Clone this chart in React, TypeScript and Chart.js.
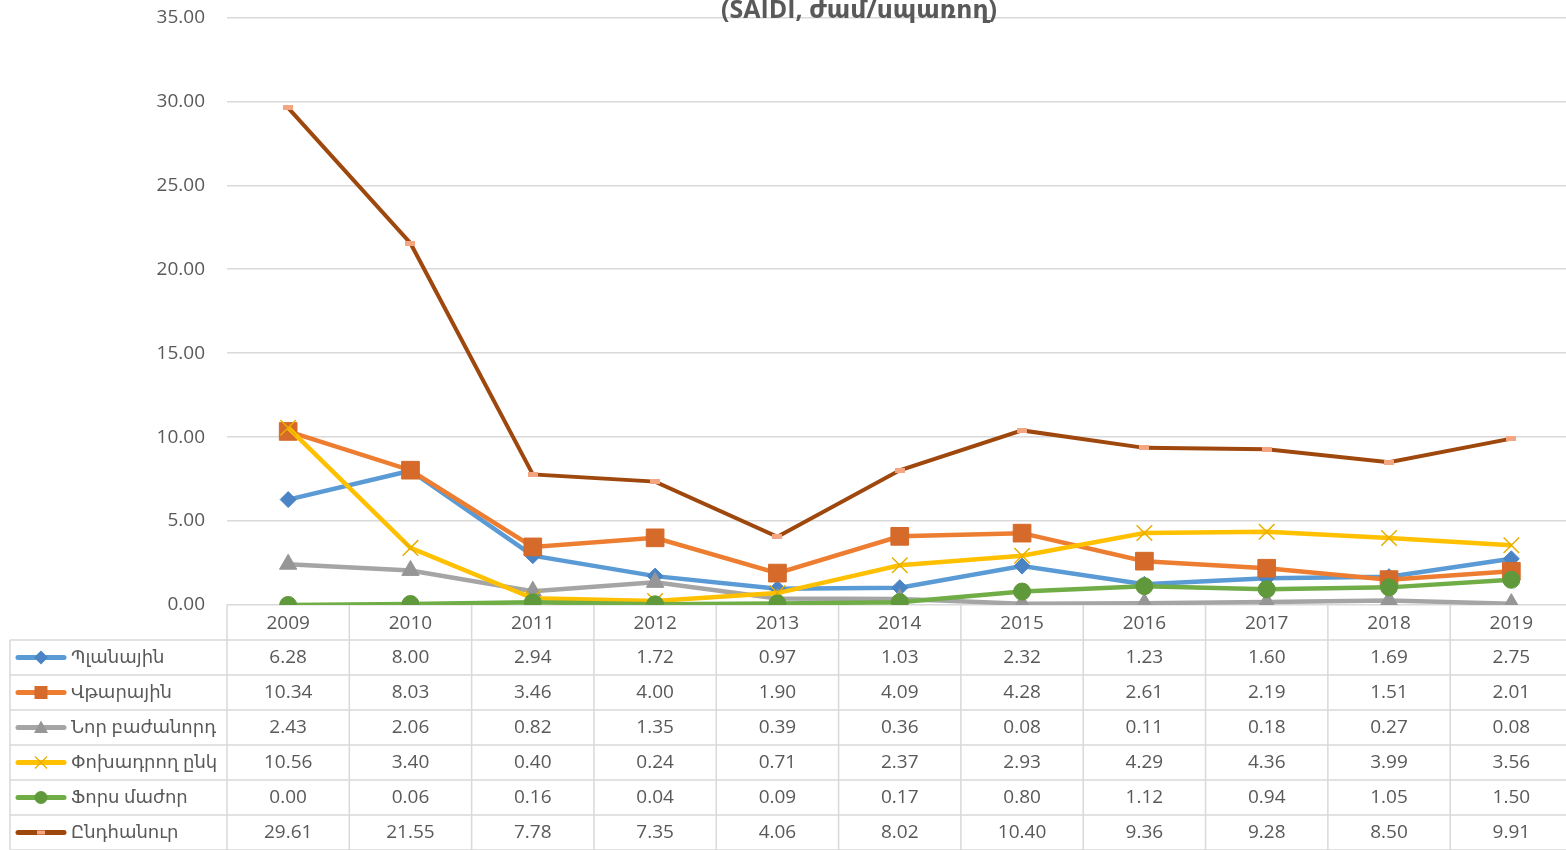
import React, { useEffect, useRef } from "react";
import { Chart, registerables } from "chart.js";

Chart.register(...registerables);

const years = ["2009", "2010", "2011", "2012", "2013", "2014", "2015", "2016", "2017", "2018", "2019"];
const planned = [6.28, 8.0, 2.94, 1.72, 0.97, 1.03, 2.32, 1.23, 1.6, 1.69, 2.75];
const emergency = [10.34, 8.03, 3.46, 4.0, 1.9, 4.09, 4.28, 2.61, 2.19, 1.51, 2.01];
const newSubscriber = [2.43, 2.06, 0.82, 1.35, 0.39, 0.36, 0.08, 0.11, 0.18, 0.27, 0.08];
const transmission = [10.56, 3.4, 0.4, 0.24, 0.71, 2.37, 2.93, 4.29, 4.36, 3.99, 3.56];
const forceMajeure = [0.0, 0.06, 0.16, 0.04, 0.09, 0.17, 0.8, 1.12, 0.94, 1.05, 1.5];
const total = [29.61, 21.55, 7.78, 7.35, 4.06, 8.02, 10.4, 9.36, 9.28, 8.5, 9.91];
const seriesNames = ["Պլանային", "Վթարային", "Նոր բաժանորդ", "Փոխադրող ընկ", "Ֆորս մաժոր", "Ընդհանուր"];
const titleText = "(SAIDI, ժամ/սպառող)";

const FONT = "'Open Sans', 'DejaVu Sans', sans-serif";
const TEXT = "#595959";
const GRID = "#d9d9d9";
const SHIFT = 16; // canvas is moved up by this many pixels

type Style = { line: string; marker: string; shape: string };
const styles: Style[] = [
  { line: "#5b9bd5", marker: "#4a84c4", shape: "diamond" },
  { line: "#ed7d31", marker: "#d56a2b", shape: "square" },
  { line: "#a5a5a5", marker: "#969696", shape: "triangle" },
  { line: "#ffc000", marker: "#e8ae00", shape: "cross" },
  { line: "#70ad47", marker: "#5f993b", shape: "circle" },
  { line: "#9e480e", marker: "#f4a582", shape: "dash" },
];

function drawShape(ctx: CanvasRenderingContext2D, shape: string, x: number, y: number, s: number, color: string) {
  ctx.save();
  ctx.fillStyle = color;
  ctx.strokeStyle = color;
  ctx.beginPath();
  if (shape === "diamond") {
    ctx.moveTo(x, y - s);
    ctx.lineTo(x + s, y);
    ctx.lineTo(x, y + s);
    ctx.lineTo(x - s, y);
    ctx.closePath();
    ctx.fill();
  } else if (shape === "square") {
    ctx.rect(x - s, y - s, 2 * s, 2 * s);
    ctx.fill();
  } else if (shape === "triangle") {
    ctx.moveTo(x, y - s);
    ctx.lineTo(x + s, y + s * 0.8);
    ctx.lineTo(x - s, y + s * 0.8);
    ctx.closePath();
    ctx.fill();
  } else if (shape === "cross") {
    ctx.lineWidth = 1.3;
    ctx.moveTo(x - s, y - s);
    ctx.lineTo(x + s, y + s);
    ctx.moveTo(x + s, y - s);
    ctx.lineTo(x - s, y + s);
    ctx.stroke();
  } else if (shape === "circle") {
    ctx.arc(x, y, s, 0, Math.PI * 2);
    ctx.fill();
  } else if (shape === "dash") {
    ctx.rect(x - 4, y - 2, 8, 4);
    ctx.fill();
  }
  ctx.restore();
}

const tablePlugin = {
  id: "dataTable",
  afterDraw(chart: any) {
    const ctx: CanvasRenderingContext2D = chart.ctx;
    const xs = chart.scales.x;
    const ys = chart.scales.y;
    const left = xs.left;
    const right = xs.right;
    const colW = (right - left) / years.length;
    const base = ys.getPixelForValue(0);
    const rowH = 35;
    const headerBottom = base + rowH;
    const bottom = headerBottom + rowH * 6;
    const tableLeft = 10;

    ctx.save();
    ctx.strokeStyle = GRID;
    ctx.lineWidth = 1.5;
    ctx.beginPath();
    for (let i = 0; i <= years.length; i++) {
      const x = left + i * colW;
      ctx.moveTo(x, base);
      ctx.lineTo(x, bottom);
    }
    ctx.moveTo(tableLeft, headerBottom);
    ctx.lineTo(tableLeft, bottom);
    for (let r = 0; r <= 6; r++) {
      const y = headerBottom + r * rowH;
      ctx.moveTo(tableLeft, y);
      ctx.lineTo(right, y);
    }
    ctx.stroke();

    ctx.fillStyle = TEXT;
    ctx.font = `19px ${FONT}`;
    ctx.textAlign = "center";
    ctx.textBaseline = "middle";
    years.forEach((yr, i) => {
      ctx.fillText(yr, xs.getPixelForValue(i), (base + headerBottom) / 2 + 1);
    });

    const data = [planned, emergency, newSubscriber, transmission, forceMajeure, total];
    data.forEach((arr, r) => {
      const cy = headerBottom + r * rowH + rowH / 2;
      ctx.fillStyle = TEXT;
      ctx.textAlign = "center";
      arr.forEach((v, i) => {
        ctx.fillText(v.toFixed(2), xs.getPixelForValue(i), cy);
      });
      const st = styles[r];
      ctx.save();
      ctx.strokeStyle = st.line;
      ctx.lineWidth = 5;
      ctx.lineCap = "round";
      ctx.beginPath();
      ctx.moveTo(18, cy);
      ctx.lineTo(64, cy);
      ctx.stroke();
      ctx.restore();
      const s = st.shape === "cross" ? 6 : st.shape === "circle" ? 6.5 : st.shape === "square" ? 6.5 : 7;
      drawShape(ctx, st.shape, 41, cy, s, st.marker);
      ctx.fillStyle = TEXT;
      ctx.textAlign = "left";
      ctx.font = `18px ${FONT}`;
      ctx.fillText(seriesNames[r], 71, cy);
      ctx.font = `19px ${FONT}`;
    });

    ctx.fillStyle = TEXT;
    ctx.font = `bold 25px ${FONT}`;
    ctx.textAlign = "center";
    ctx.textBaseline = "alphabetic";
    ctx.fillText(titleText, 859, 18 + SHIFT);
    ctx.restore();
  },
};

export default function App() {
  const ref = useRef<HTMLCanvasElement | null>(null);

  useEffect(() => {
    const canvas = ref.current;
    if (!canvas) return;
    const dash = document.createElement("canvas");
    dash.width = 10;
    dash.height = 5;
    const dctx = dash.getContext("2d");
    if (dctx) {
      dctx.fillStyle = "#f4a582";
      dctx.fillRect(0, 0, 10, 5);
    }

    const seriesData = [planned, emergency, newSubscriber, transmission, forceMajeure, total];
    const pointStyles: any[] = ["rectRot", "rect", "triangle", "crossRot", "circle", dash];
    const radii = [8, 12.5, 10, 11, 8.5, 5];

    const chart = new Chart(canvas, {
      type: "line",
      data: {
        labels: years,
        datasets: seriesData.map((d, i) => ({
          label: seriesNames[i],
          data: d,
          borderColor: styles[i].line,
          backgroundColor: styles[i].marker,
          borderWidth: i === 5 ? 4 : 4.5,
          pointStyle: pointStyles[i],
          pointRadius: radii[i],
          pointBackgroundColor: styles[i].marker,
          pointBorderColor: styles[i].marker,
          pointBorderWidth: i === 3 ? 1.5 : 1,
          tension: 0,
          order: 6 - i,
        })),
      },
      options: {
        responsive: false,
        animation: false,
        events: [],
        layout: { padding: { left: 0, right: 0, top: 0, bottom: 245 } },
        plugins: {
          legend: { display: false },
          tooltip: { enabled: false },
          title: { display: false },
        },
        scales: {
          x: { type: "category", display: false, offset: true },
          y: {
            min: 0,
            max: 35,
            ticks: {
              stepSize: 5,
              callback: (v: any) => Number(v).toFixed(2),
              color: TEXT,
              font: { family: FONT, size: 19 },
              padding: 22,
            },
            grid: { color: GRID, lineWidth: 1.5, drawTicks: false },
            border: { display: false },
            afterFit: (s: any) => {
              s.width = 227;
            },
          },
        },
      } as any,
      plugins: [tablePlugin],
    });
    return () => chart.destroy();
  }, []);

  return (
    <div
      style={{
        position: "fixed",
        left: 0,
        top: 0,
        width: 1566,
        height: 850,
        overflow: "hidden",
        background: "#ffffff",
      }}
    >
      <canvas
        ref={ref}
        width={1586}
        height={850 + SHIFT}
        style={{ display: "block", position: "absolute", left: 0, top: -SHIFT, width: 1586, height: 850 + SHIFT }}
      />
    </div>
  );
}
